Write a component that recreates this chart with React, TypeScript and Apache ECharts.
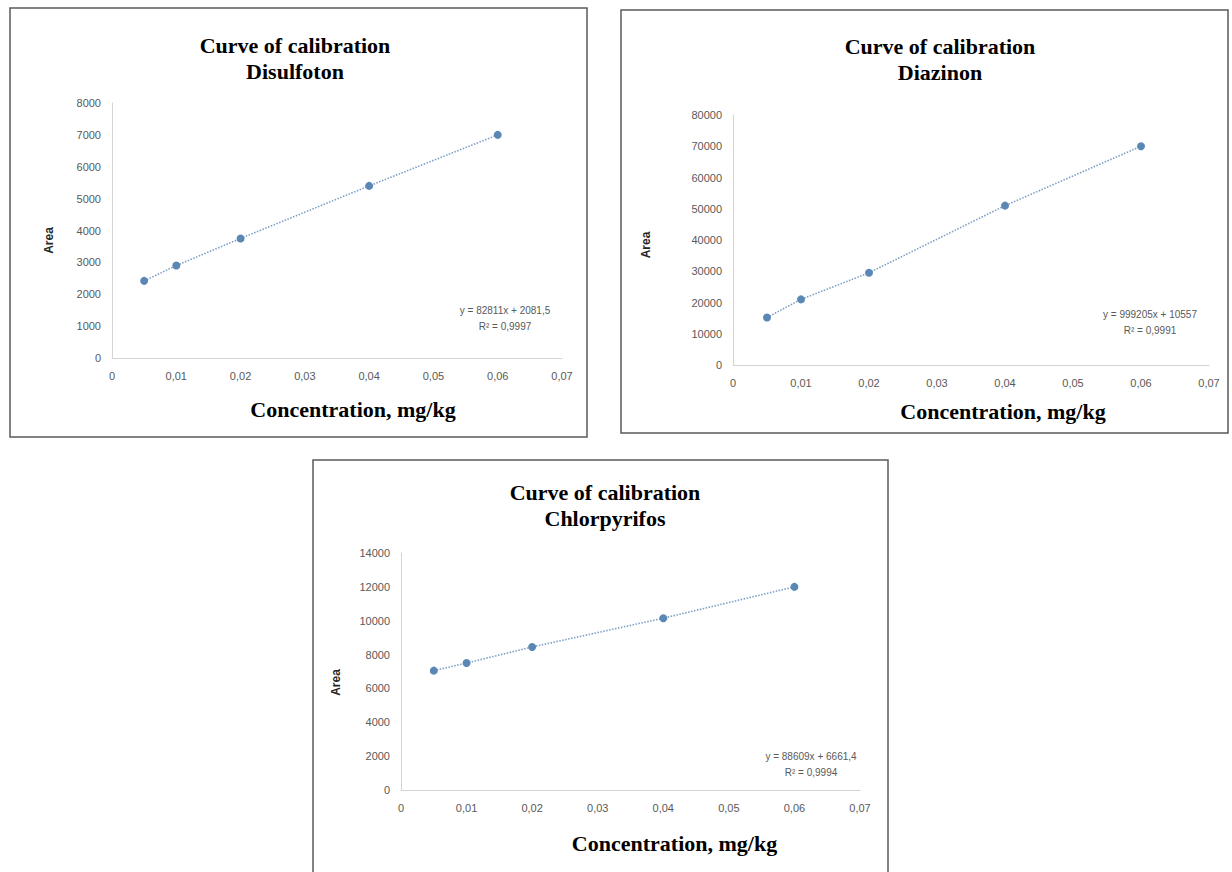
import React, { useEffect, useRef } from "react";
import * as echarts from "echarts";

const concentrations = [0.005, 0.01, 0.02, 0.04, 0.06];
const disulfotonArea = [2420, 2900, 3750, 5400, 7000];
const diazinonArea = [15200, 21000, 29500, 51000, 70000];
const chlorpyrifosArea = [7050, 7500, 8450, 10150, 12000];

const compoundNames = ["Disulfoton", "Diazinon", "Chlorpyrifos"];
const equations = [
  "y = 82811x + 2081,5\nR² = 0,9997",
  "y = 999205x + 10557\nR² = 0,9991",
  "y = 88609x + 6661,4\nR² = 0,9994",
];
const yMax = [8000, 80000, 14000];
const yStep = [1000, 10000, 2000];
const xMax = 0.07;
const xStep = 0.01;
const titleText = "Curve of calibration";
const xAxisTitle = "Concentration, mg/kg";
const yAxisTitle = "Area";

const seriesValues = [disulfotonArea, diazinonArea, chlorpyrifosArea];

// layout (positions only)
const grids = [
  { left: 112, top: 103, width: 450, height: 255 },
  { left: 733, top: 115, width: 476, height: 250 },
  { left: 401, top: 553, width: 459, height: 237 },
];
const boxes = [
  { x: 10, y: 8, w: 577, h: 429 },
  { x: 621, y: 10, w: 607, h: 423 },
  { x: 313, y: 460, w: 575, h: 430 },
];
const titlePos = [
  { x: 295, y: 58 },
  { x: 940, y: 59 },
  { x: 605, y: 505 },
];
const eqPos = [
  { x: 505, y: 318 },
  { x: 1150, y: 322 },
  { x: 811, y: 764 },
];
const yNameGap = [57, 81, 59];
const yNameShiftDown = [10, 5, 11];
const xNameGap = [40, 35, 42];
const xNameShift = [16, 32, 44];

const serifFont = "'Liberation Serif', 'Times New Roman', 'DejaVu Serif', serif";
const sansFont = "'Liberation Sans', Arial, sans-serif";

const fmtX = (v: number) => (v === 0 ? "0" : v.toFixed(2).replace(".", ","));
const fmtY = (v: number) => String(Math.round(v));

export default function App() {
  const ref = useRef<HTMLDivElement>(null);
  useEffect(() => {
    if (!ref.current) return;
    const chart = echarts.init(ref.current, undefined, { renderer: "svg" });
    const labelColor = "#595959";
    const axisLineColor = "#d4d4d4";
    const markerColor = "#5b87b5";

    const option: any = {
      animation: false,
      backgroundColor: "#ffffff",
      grid: grids.map((g) => ({ ...g, containLabel: false })),
      xAxis: grids.map((_, i) => ({
        type: "value",
        gridIndex: i,
        min: 0,
        max: xMax,
        interval: xStep,
        splitLine: { show: false },
        axisTick: { show: false },
        axisLine: { show: true, onZero: false, lineStyle: { color: axisLineColor, width: 1 } },
        axisLabel: {
          formatter: fmtX,
          color: labelColor,
          fontSize: 11,
          fontFamily: sansFont,
          margin: 12,
          showMaxLabel: true,
          showMinLabel: true,
        },
        name: xAxisTitle,
        nameLocation: "middle",
        nameGap: xNameGap[i],
        nameTextStyle: {
          fontFamily: serifFont,
          fontWeight: "bold",
          fontSize: 22,
          color: "#000",
          padding: [0, 0, 0, xNameShift[i] * 2],
        },
      })),
      yAxis: grids.map((_, i) => ({
        type: "value",
        gridIndex: i,
        min: 0,
        max: yMax[i],
        interval: yStep[i],
        splitLine: { show: false },
        axisTick: { show: false },
        axisLine: { show: true, lineStyle: { color: axisLineColor, width: 1 } },
        axisLabel: {
          formatter: fmtY,
          color: labelColor,
          fontSize: 11,
          fontFamily: sansFont,
          margin: 11,
        },
        name: yAxisTitle,
        nameLocation: "middle",
        nameRotate: 90,
        nameGap: yNameGap[i],
        nameTextStyle: {
          fontFamily: sansFont,
          fontWeight: "bold",
          fontSize: 12,
          color: "#262626",
          padding: [0, yNameShiftDown[i] * 2, 0, 0],
        },
      })),
      series: seriesValues.map((vals, i) => ({
        type: "line",
        name: compoundNames[i],
        xAxisIndex: i,
        yAxisIndex: i,
        data: concentrations.map((c, j) => [c, vals[j]]),
        symbol: "circle",
        symbolSize: 8,
        itemStyle: { color: markerColor },
        lineStyle: { color: "#7d9fc6", width: 1.6, type: [1.5, 1.5] },
        z: 3,
      })),
      graphic: [
        ...boxes.map((b) => ({
          type: "rect",
          shape: { x: b.x, y: b.y, width: b.w, height: b.h },
          style: { fill: "none", stroke: "#5a5a5a", lineWidth: 1.5 },
          z: 10,
        })),
        ...titlePos.map((p, i) => ({
          type: "text",
          x: p.x,
          y: p.y,
          style: {
            text: titleText + "\n" + compoundNames[i],
            fill: "#000",
            fontFamily: serifFont,
            fontWeight: "bold",
            fontSize: 22,
            align: "center",
            verticalAlign: "middle",
            lineHeight: 26,
          },
        })),
        ...eqPos.map((p, i) => ({
          type: "text",
          x: p.x,
          y: p.y,
          style: {
            text: equations[i],
            fill: labelColor,
            fontFamily: sansFont,
            fontSize: 10,
            align: "center",
            verticalAlign: "middle",
            lineHeight: 16,
          },
        })),
      ],
    };
    chart.setOption(option);
    return () => chart.dispose();
  }, []);
  return (
    <div
      ref={ref}
      style={{ position: "fixed", left: 0, top: 0, width: 1232, height: 872, background: "#fff" }}
    />
  );
}
